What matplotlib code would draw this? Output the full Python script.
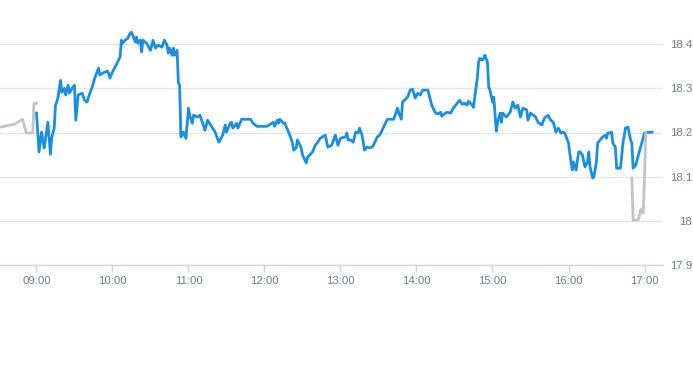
import matplotlib
matplotlib.use("Agg")
import matplotlib.pyplot as plt
from matplotlib.ticker import FuncFormatter

# intraday quotes, time "HH:MM" and price
pre_times = ["08:31", "08:43", "08:49", "08:52", "08:57", "08:58", "09:00"]
pre_prices = [18.212, 18.219, 18.230, 18.199, 18.199, 18.266, 18.266]

times = ["09:00", "09:02", "09:04", "09:06", "09:07", "09:09", "09:11", "09:12", "09:14", "09:15",
         "09:16", "09:17", "09:19", "09:20", "09:22", "09:23", "09:25", "09:26", "09:28", "09:30",
         "09:31", "09:33", "09:36", "09:38", "09:40", "09:41", "09:44", "09:46", "09:49", "09:50",
         "09:52", "09:56", "09:57", "09:58", "10:00", "10:04", "10:06", "10:07", "10:08", "10:10",
         "10:12", "10:14", "10:15", "10:16", "10:18", "10:19", "10:20", "10:22", "10:23", "10:24",
         "10:27", "10:30", "10:32", "10:34", "10:36", "10:39", "10:41", "10:43", "10:44", "10:45",
         "10:47", "10:48", "10:49", "10:51", "10:52", "10:53", "10:54", "10:56", "10:58", "11:00",
         "11:01", "11:03", "11:04", "11:07", "11:09", "11:11", "11:13", "11:15", "11:19", "11:21",
         "11:24", "11:27", "11:29", "11:30", "11:33", "11:34", "11:35", "11:38", "11:39", "11:42",
         "11:45", "11:49", "11:51", "11:54", "12:02", "12:06", "12:07", "12:08", "12:10", "12:11",
         "12:12", "12:15", "12:16", "12:19", "12:22", "12:23", "12:25", "12:26", "12:29", "12:30",
         "12:33", "12:34", "12:38", "12:40", "12:42", "12:44", "12:48", "12:50", "12:53", "12:56",
         "12:58", "13:00", "13:04", "13:05", "13:06", "13:08", "13:10", "13:12", "13:14", "13:15",
         "13:17", "13:19", "13:21", "13:23", "13:25", "13:26", "13:29", "13:31", "13:34", "13:37",
         "13:39", "13:42", "13:45", "13:46", "13:48", "13:49", "13:53", "13:55", "13:57", "13:59",
         "14:01", "14:03", "14:05", "14:09", "14:12", "14:15", "14:17", "14:19", "14:20", "14:22",
         "14:24", "14:27", "14:29", "14:32", "14:34", "14:36", "14:38", "14:40", "14:41", "14:44",
         "14:45", "14:46", "14:48", "14:49", "14:50", "14:52", "14:53", "14:54", "14:56", "14:57",
         "14:58", "15:00", "15:01", "15:03", "15:04", "15:06", "15:07", "15:08", "15:11", "15:14",
         "15:16", "15:18", "15:20", "15:22", "15:24", "15:27", "15:28", "15:30", "15:34", "15:36",
         "15:39", "15:41", "15:44", "15:46", "15:48", "15:50", "15:52", "15:54", "15:56", "15:57",
         "16:00", "16:01", "16:03", "16:04", "16:06", "16:08", "16:09", "16:11", "16:13", "16:15",
         "16:16", "16:17", "16:19", "16:20", "16:22", "16:23", "16:26", "16:27", "16:29", "16:30",
         "16:31", "16:33", "16:34", "16:35", "16:37", "16:38", "16:41", "16:43", "16:45", "16:47",
         "16:49", "16:50", "16:51", "16:53", "17:00", "17:06"]
prices = [18.244, 18.156, 18.201, 18.165, 18.183, 18.223, 18.151, 18.187, 18.210, 18.262,
          18.269, 18.280, 18.318, 18.291, 18.300, 18.285, 18.307, 18.289, 18.300, 18.307,
          18.228, 18.285, 18.289, 18.273, 18.269, 18.280, 18.303, 18.323, 18.346, 18.330,
          18.334, 18.339, 18.334, 18.323, 18.337, 18.359, 18.371, 18.409, 18.402, 18.409,
          18.413, 18.425, 18.427, 18.420, 18.405, 18.416, 18.402, 18.409, 18.382, 18.409,
          18.402, 18.386, 18.409, 18.391, 18.398, 18.393, 18.409, 18.398, 18.380, 18.391,
          18.375, 18.391, 18.375, 18.386, 18.314, 18.307, 18.190, 18.201, 18.187, 18.255,
          18.239, 18.221, 18.239, 18.235, 18.239, 18.223, 18.205, 18.228, 18.210, 18.201,
          18.178, 18.194, 18.217, 18.201, 18.221, 18.223, 18.210, 18.221, 18.210, 18.230,
          18.230, 18.230, 18.221, 18.214, 18.214, 18.221, 18.223, 18.214, 18.228, 18.221,
          18.230, 18.221, 18.221, 18.201, 18.178, 18.160, 18.165, 18.183, 18.165, 18.149,
          18.131, 18.144, 18.156, 18.171, 18.178, 18.187, 18.194, 18.167, 18.171, 18.194,
          18.171, 18.187, 18.190, 18.199, 18.183, 18.183, 18.178, 18.201, 18.199, 18.210,
          18.194, 18.160, 18.167, 18.165, 18.167, 18.171, 18.190, 18.194, 18.212, 18.230,
          18.230, 18.230, 18.255, 18.244, 18.230, 18.269, 18.280, 18.296, 18.298, 18.278,
          18.289, 18.285, 18.296, 18.296, 18.262, 18.244, 18.242, 18.246, 18.237, 18.242,
          18.246, 18.244, 18.255, 18.266, 18.273, 18.264, 18.266, 18.262, 18.271, 18.262,
          18.257, 18.280, 18.323, 18.359, 18.368, 18.364, 18.368, 18.375, 18.359, 18.303,
          18.296, 18.269, 18.280, 18.203, 18.223, 18.244, 18.223, 18.244, 18.235, 18.246,
          18.269, 18.255, 18.262, 18.235, 18.255, 18.251, 18.228, 18.244, 18.235, 18.223,
          18.217, 18.233, 18.239, 18.228, 18.223, 18.201, 18.210, 18.199, 18.201, 18.199,
          18.176, 18.153, 18.115, 18.133, 18.115, 18.156, 18.156, 18.149, 18.122, 18.133,
          18.156, 18.122, 18.097, 18.099, 18.133, 18.176, 18.187, 18.190, 18.194, 18.187,
          18.199, 18.199, 18.201, 18.176, 18.167, 18.119, 18.119, 18.176, 18.210, 18.212,
          18.183, 18.176, 18.119, 18.126, 18.199, 18.201]

post_times = ["16:50", "16:51", "16:55", "16:57", "16:58", "16:59", "17:00", "17:01"]
post_prices = [18.097, 18.002, 18.002, 18.024, 18.027, 18.018, 18.099, 18.199]

hour_labels = ["09:00", "10:00", "11:00", "12:00", "13:00", "14:00", "15:00", "16:00", "17:00"]
y_ticks = [17.9, 18.0, 18.1, 18.2, 18.3, 18.4]


def mins(t):
    h, m = t.split(":")
    return (int(h) - 9) * 60 + int(m)


plt.rcParams['font.family'] = ['Liberation Sans', 'DejaVu Sans']

fig = plt.figure(figsize=(6.93, 3.65), dpi=100)
ax = fig.add_axes([0, 100 / 365, 663 / 693, 265 / 365])

ax.plot([mins(t) for t in times], prices, color='#1a8fe0', lw=2, zorder=3,
        solid_joinstyle='round')
ax.plot([mins(t) for t in pre_times], pre_prices, color='#bcc5cd', lw=2, zorder=4)
ax.plot([mins(t) for t in post_times], post_prices, color='#bcc5cd', lw=2, zorder=4)

ax.set_xlim(-28.8, 494.6)
ax.set_ylim(17.9, 18.5)

ax.set_xticks([mins(t) for t in hour_labels])
ax.set_xticklabels(hour_labels)
ax.set_yticks(y_ticks)
ax.yaxis.set_major_formatter(FuncFormatter(lambda v, p: '%g' % round(v, 1)))
ax.yaxis.tick_right()

ax.grid(axis='y', color='#e6e6e6', lw=1)
ax.set_axisbelow(True)
for s in ['top', 'left', 'right']:
    ax.spines[s].set_visible(False)
ax.spines['bottom'].set_color('#ccd6eb')
ax.spines['bottom'].set_linewidth(1)

ax.tick_params(axis='x', length=5, width=1, color='#ccd6eb', labelcolor='#707c8c',
               labelsize=8.2, pad=3)
ax.tick_params(axis='y', length=0, labelcolor='#707c8c', labelsize=8.2, pad=21)
for lab in ax.get_yticklabels():
    lab.set_horizontalalignment('right')

fig.savefig('out.png', dpi=100)
